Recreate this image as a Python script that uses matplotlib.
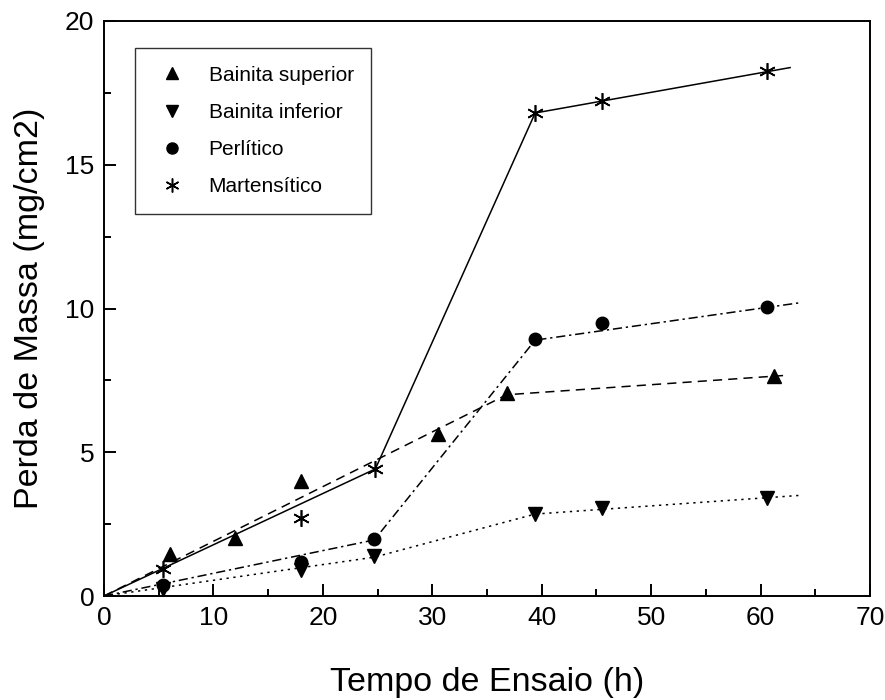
import matplotlib
matplotlib.use("Agg")
import matplotlib.pyplot as plt
from matplotlib.lines import Line2D
from matplotlib.ticker import MultipleLocator

plt.rcParams['font.family'] = ['Liberation Sans', 'DejaVu Sans']

# ---- data: measured points ----
bs_x = [6.0, 12.0, 18.0, 30.5, 36.8, 61.2]
bs_y = [1.45, 2.03, 4.0, 5.65, 7.05, 7.65]

bi_x = [5.4, 18.0, 24.7, 39.4, 45.5, 60.6]
bi_y = [0.25, 0.9, 1.38, 2.85, 3.07, 3.42]

pe_x = [5.4, 18.0, 24.7, 39.4, 45.5, 60.6]
pe_y = [0.4, 1.2, 1.97, 8.93, 9.5, 10.05]

ma_x = [5.4, 18.0, 24.8, 39.4, 45.5, 60.6]
ma_y = [0.93, 2.72, 4.42, 16.8, 17.23, 18.25]

# ---- data: fitted piecewise lines ----
bs_fx = [0, 36.8, 62.5]
bs_fy = [0, 7.0, 7.68]

bi_fx = [0, 24.7, 39.4, 63.6]
bi_fy = [0, 1.35, 2.85, 3.5]

pe_fx = [0, 24.7, 39.4, 63.6]
pe_fy = [0, 1.95, 8.9, 10.2]

ma_fx = [0, 24.8, 39.4, 62.7]
ma_fy = [0, 4.42, 16.8, 18.38]

labels = ['Bainita superior', 'Bainita inferior', 'Perlítico', 'Martensítico']
xlabel = 'Tempo de Ensaio (h)'
ylabel = 'Perda de Massa (mg/cm2)'

fig = plt.figure(figsize=(8.85, 7.0), dpi=100)
ax = fig.add_axes([104/885, 1-596/700, (870-104)/885, (596-21)/700])

lw = 1.1
ax.plot(bs_fx, bs_fy, color='k', lw=lw, dashes=(6, 4))
ax.plot(bi_fx, bi_fy, color='k', lw=lw, dashes=(1.5, 3))
ax.plot(pe_fx, pe_fy, color='k', lw=lw, dashes=(6, 2.5, 1.5, 2.5))
ax.plot(ma_fx, ma_fy, color='k', lw=lw, ls='-')

ast = (6, 2, 0)
ax.plot(bs_x, bs_y, ls='none', marker='^', ms=10, color='k')
ax.plot(bi_x, bi_y, ls='none', marker='v', ms=10, color='k')
ax.plot(pe_x, pe_y, ls='none', marker='o', ms=9, color='k')
ax.plot(ma_x, ma_y, ls='none', marker=ast, ms=12, color='k', mew=1.2)

ax.set_xlim(0, 70)
ax.set_ylim(0, 20)
ax.xaxis.set_major_locator(MultipleLocator(10))
ax.xaxis.set_minor_locator(MultipleLocator(5))
ax.yaxis.set_major_locator(MultipleLocator(5))
ax.yaxis.set_minor_locator(MultipleLocator(2.5))
ax.tick_params(which='both', direction='in', top=False, right=False, width=1.4,
               labelsize=19, colors='k')
ax.tick_params(which='major', length=8.5, pad=7)
ax.tick_params(which='minor', length=5)
for s in ax.spines.values():
    s.set_linewidth(1.4)

ax.set_xlabel(xlabel, fontsize=24.5, labelpad=27)
ax.set_ylabel(ylabel, fontsize=24.5, labelpad=14)

handles = [
    Line2D([], [], ls='none', marker='^', ms=9, color='k'),
    Line2D([], [], ls='none', marker='v', ms=9, color='k'),
    Line2D([], [], ls='none', marker='o', ms=8, color='k'),
    Line2D([], [], ls='none', marker=ast, ms=10, color='k', mew=1.1),
]
leg = ax.legend(handles, labels, loc='upper left', bbox_to_anchor=(0.04, 0.953),
                borderaxespad=0, fontsize=15, frameon=True, fancybox=False,
                edgecolor='k', labelspacing=0.87, handlelength=1.9,
                handletextpad=0.8, borderpad=0.85)
leg.get_frame().set_linewidth(1.0)

fig.savefig('out.png', dpi=100)
